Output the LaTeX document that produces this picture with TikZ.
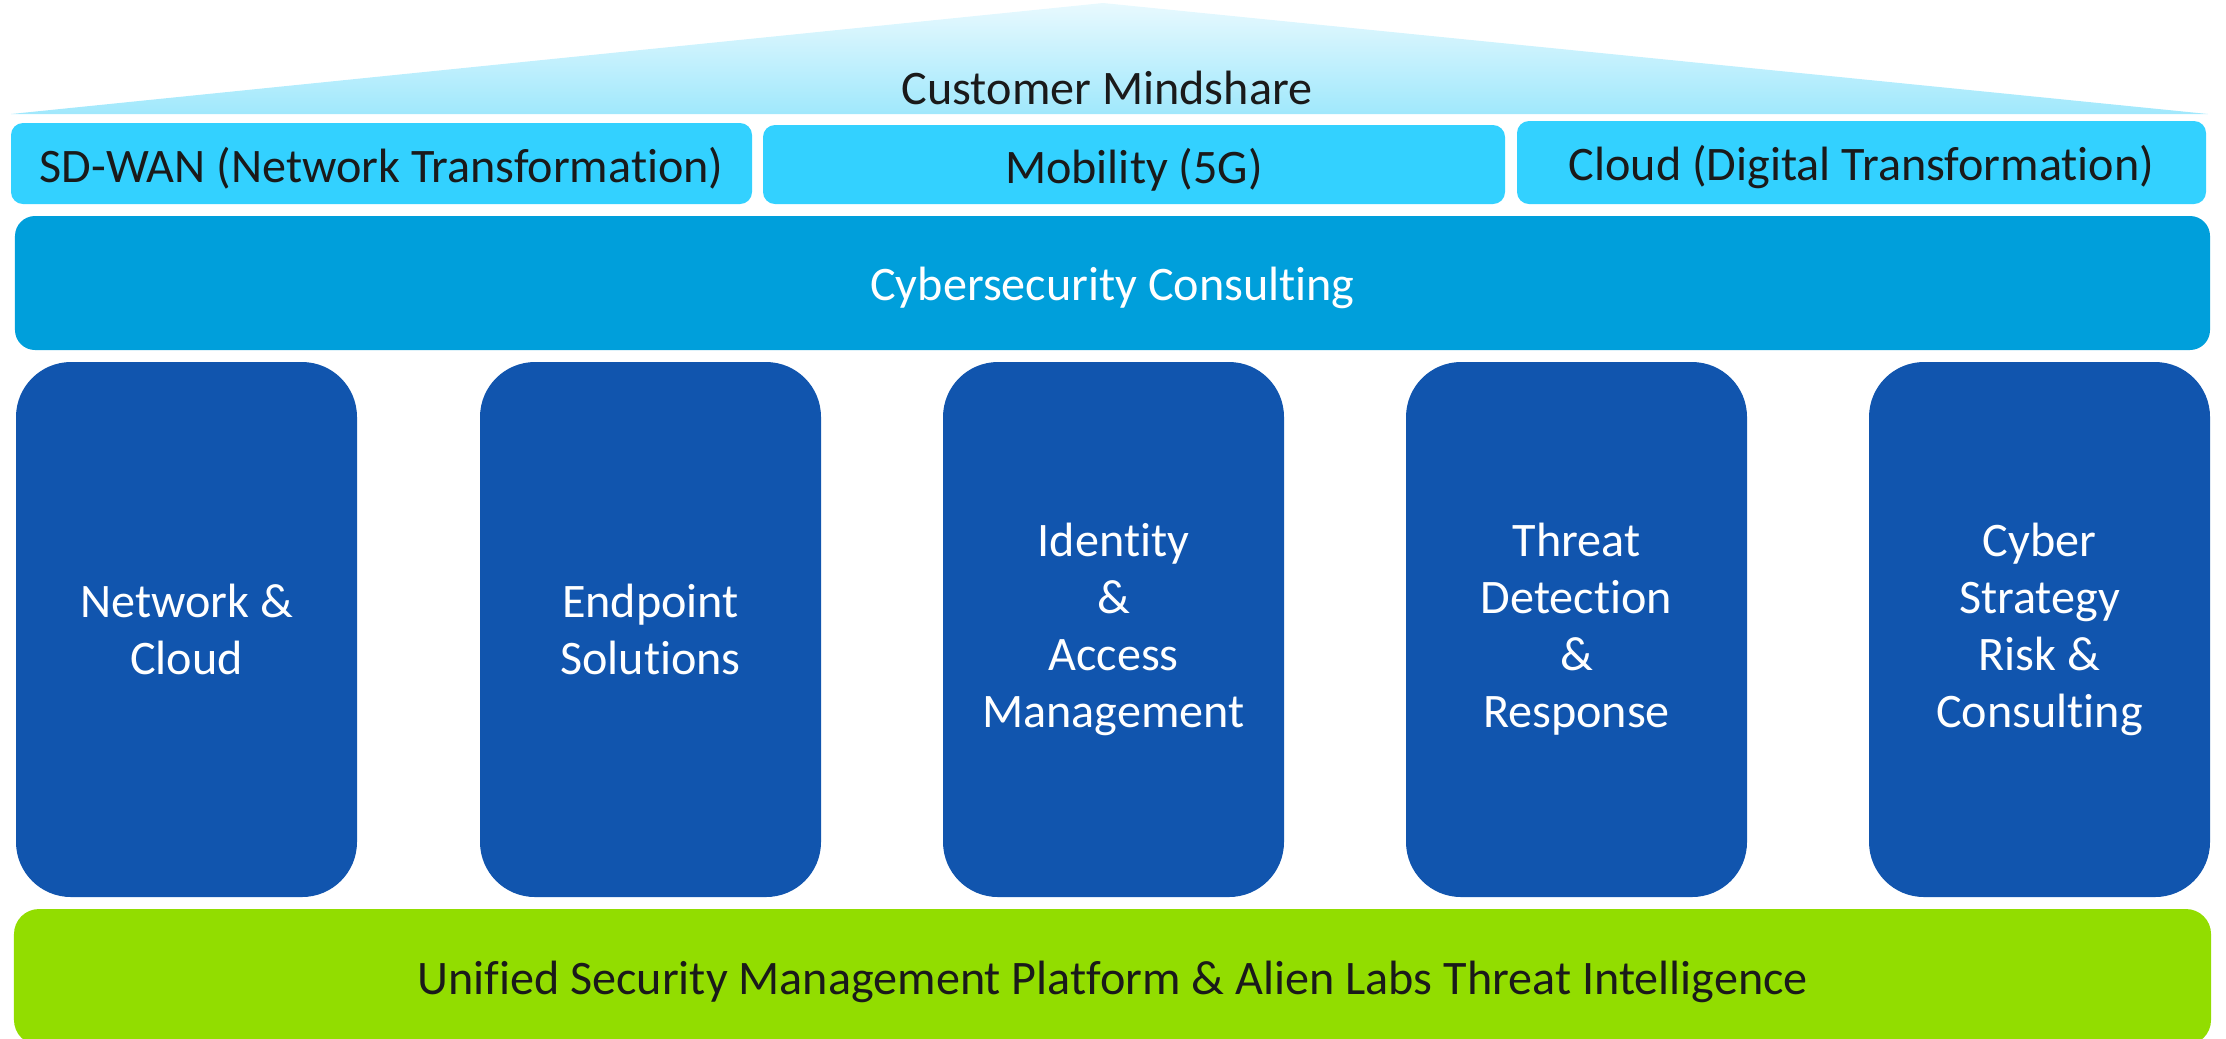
\documentclass[tikz,border=0pt]{standalone}
\usepackage{fontspec}
\setmainfont[RawFeature={-liga;-clig;-dlig}]{Carlito}
\definecolor{roofTop}{HTML}{E8F9FE}
\definecolor{roofBot}{HTML}{A0E8FC}
\definecolor{topBox}{HTML}{33D1FF}
\definecolor{consBox}{HTML}{009FDB}
\definecolor{pillarBox}{HTML}{1155AE}
\definecolor{baseBox}{HTML}{92DD00}
\definecolor{darkText}{HTML}{1A1A1A}
\newcommand{\lowertext}[1]{\raisebox{-1.4pt}[\height][\depth]{#1}}
\tikzset{
  txt/.style={font=\fontsize{13.7}{16.2}\selectfont, align=center},
  topbox/.style={txt, fill=topBox, text=darkText, rounded corners=0.12cm, inner sep=0pt},
  consbox/.style={txt, fill=consBox, text=white, rounded corners=0.2cm, inner sep=0pt},
  pillar/.style={txt, fill=pillarBox, text=white, rounded corners=0.55cm, inner sep=0pt,
    minimum width=3.41cm, minimum height=5.35cm},
  basebox/.style={txt, fill=baseBox, text=darkText, rounded corners=0.25cm, inner sep=0pt},
}
\begin{document}
\begin{tikzpicture}
\clip (0,0) rectangle (22.26,-10.38);
\useasboundingbox (0,0) rectangle (22.26,-10.38);
% roof
\shade[top color=roofTop, bottom color=roofBot] (0.11,-1.14) -- (11.03,-0.03) -- (22.08,-1.14) -- cycle;
\node[txt, text=darkText] (mind) at (11.07,-0.88) {Customer Mindshare};
% top row
\node[topbox, minimum width=7.41cm, minimum height=0.81cm] (sdwan) at (3.815,-1.635) {\lowertext{SD-WAN (Network Transformation)}};
\node[topbox, minimum width=7.42cm, minimum height=0.79cm] (mob) at (11.34,-1.645) {\lowertext{Mobility (5G)}};
\node[topbox, minimum width=6.89cm, minimum height=0.83cm] (cloud) at (18.615,-1.625) {\lowertext{Cloud (Digital Transformation)}};
% consulting
\node[consbox, minimum width=21.95cm, minimum height=1.34cm] (cons) at (11.125,-2.83) {\lowertext{Cybersecurity Consulting}};
% pillars
\node[pillar] (p1) at (1.865,-6.295) {Network \&\\Cloud};
\node[pillar] (p2) at (6.505,-6.295) {Endpoint\\Solutions};
\node[pillar] (p3) at (11.135,-6.295) {Identity\\\&\\Access\\Management};
\node[pillar] (p4) at (15.765,-6.295) {Threat\\Detection\\\&\\Response};
\node[pillar] (p5) at (20.395,-6.295) {Cyber\\Strategy\\Risk \&\\Consulting};
% base
\node[basebox, minimum width=21.97cm, minimum height=1.36cm] (base) at (11.125,-9.77) {\lowertext{Unified Security Management Platform \& Alien Labs Threat Intelligence}};
\end{tikzpicture}
\end{document}
